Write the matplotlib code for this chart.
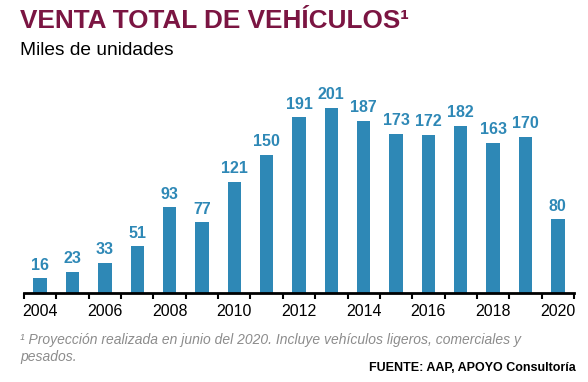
import matplotlib
matplotlib.use('Agg')
import numpy as np
from matplotlib import pyplot as plt

plt.rcParams['font.family'] = ['Liberation Sans', 'DejaVu Sans']

#########################################
### Data
#########################################
years = list(range(2004, 2021))
ventas = [16, 23, 33, 51, 93, 77, 121, 150, 191, 201, 187, 173, 172, 182, 163, 170, 80]
tick_years = [2004, 2006, 2008, 2010, 2012, 2014, 2016, 2018, 2020]

bar_color = '#2e88b6'
title_color = '#7b1542'

fig = plt.figure(figsize=(5.88, 3.82), dpi=100)
ax = fig.add_axes([0.041, 0.233, 0.935, 0.53])

x = np.arange(len(years))
ax.bar(x, ventas, width=0.42, color=bar_color)
for xi, v in zip(x, ventas):
    ax.text(xi, v + 6, str(v), ha='center', va='bottom', fontsize=11.5,
            fontweight='bold', color=bar_color)

ax.set_xlim(-0.5, len(years) - 0.5)
ax.set_ylim(0, 220)
ax.set_yticks([])
for s in ['top', 'right', 'left']:
    ax.spines[s].set_visible(False)
ax.spines['bottom'].set_linewidth(2)
ax.spines['bottom'].set_color('black')

# minor ticks between categories, labels every 2 years
ax.set_xticks(x[::2])
ax.set_xticklabels([str(y) for y in tick_years], fontsize=11.5)
ax.tick_params(axis='x', which='major', length=0, pad=8)
ax.set_xticks(np.arange(-0.5, len(years)), minor=True)
ax.tick_params(axis='x', which='minor', length=4, width=1.5, direction='out')

fig.text(0.034, 0.946, 'VENTA TOTAL DE VEHÍCULOS¹', fontsize=18.8, fontweight='bold',
         color=title_color, va='center')
fig.text(0.034, 0.868, 'Miles de unidades', fontsize=13.8, color='black', va='center')

fig.text(0.034, 0.109, '¹ Proyección realizada en junio del 2020. Incluye vehículos ligeros, comerciales y',
         fontsize=10, style='italic', color='#8c8c8c', va='center')
fig.text(0.034, 0.066, 'pesados.', fontsize=10, style='italic', color='#8c8c8c', va='center')
fig.text(0.98, 0.036, 'FUENTE: AAP, APOYO Consultoría', fontsize=9, fontweight='bold',
         color='black', ha='right', va='center')

fig.savefig('out.png', dpi=100)
